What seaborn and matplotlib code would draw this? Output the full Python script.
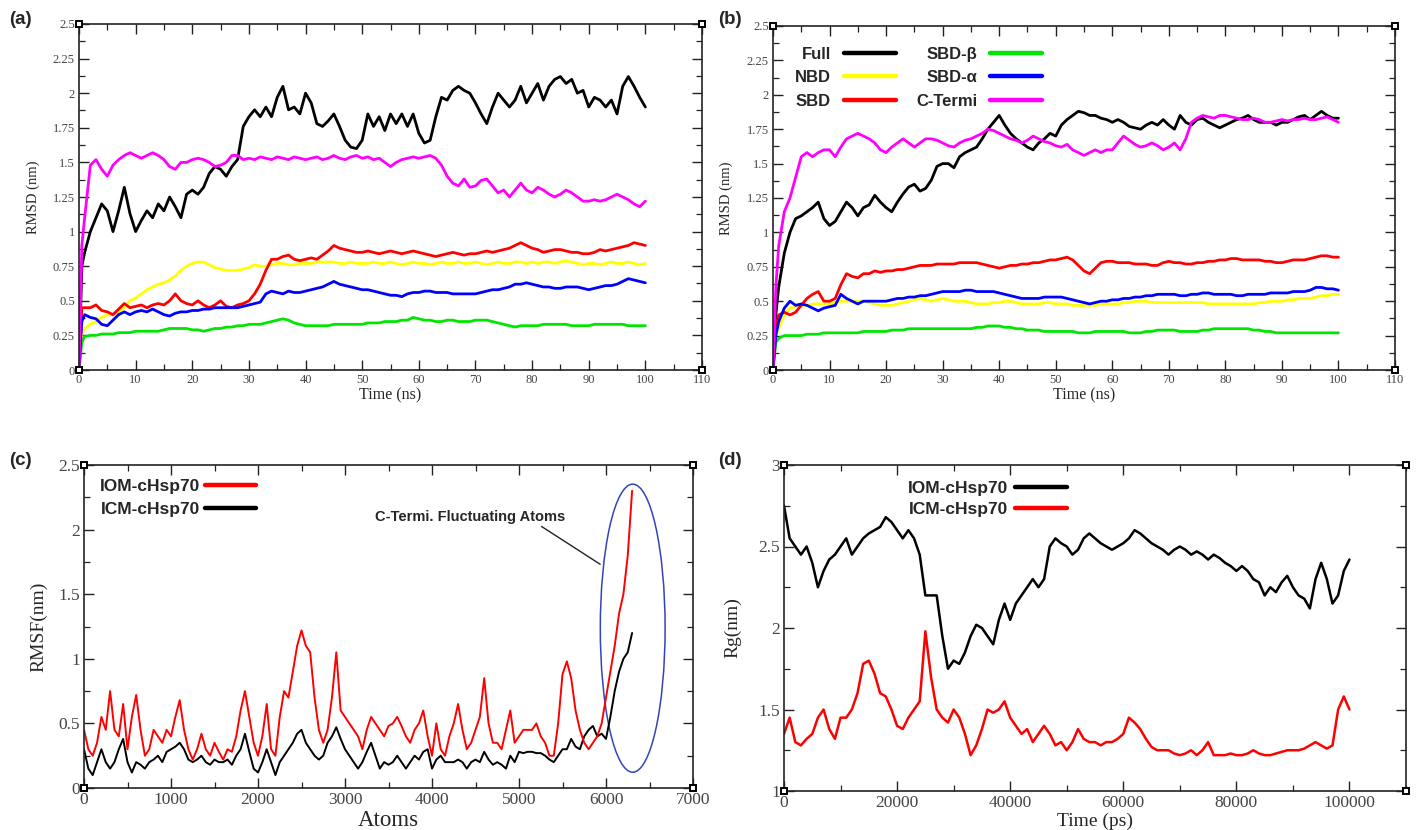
import numpy as np
import pandas as pd
import matplotlib
matplotlib.use("Agg")
import matplotlib.pyplot as plt
import seaborn as sns
from matplotlib.lines import Line2D
from matplotlib.patches import Ellipse
from matplotlib.ticker import MultipleLocator, FuncFormatter

# ---------------- data ----------------
TIME_NS = [0, 0.5] + list(range(1, 101))

FULL_A = [0.0, 0.75, 0.85,
          1.0, 1.1, 1.2, 1.15, 1.0, 1.15, 1.32, 1.13, 1.0,
          1.08, 1.15, 1.1, 1.2, 1.15, 1.25, 1.18, 1.1, 1.27, 1.3,
          1.27, 1.32, 1.42, 1.47, 1.45, 1.4, 1.47, 1.52, 1.76, 1.83,
          1.88, 1.83, 1.9, 1.83, 1.97, 2.05, 1.88, 1.9, 1.85, 2.0,
          1.93, 1.78, 1.76, 1.8, 1.85, 1.76, 1.66, 1.61, 1.6, 1.66,
          1.85, 1.76, 1.83, 1.73, 1.85, 1.78, 1.85, 1.76, 1.85, 1.71,
          1.64, 1.66, 1.83, 1.97, 1.95, 2.02, 2.05, 2.02, 2.0, 1.93,
          1.85, 1.78, 1.9, 2.0, 1.95, 1.9, 1.95, 2.05, 1.93, 2.0,
          2.07, 1.95, 2.05, 2.1, 2.12, 2.07, 2.1, 2.0, 2.02, 1.9,
          1.97, 1.95, 1.9, 1.95, 1.85, 2.05, 2.12, 2.05, 1.97, 1.9]
NBD_A = [0.15, 0.25, 0.3,
         0.33, 0.35, 0.38, 0.4, 0.4, 0.42, 0.45, 0.5, 0.52,
         0.55, 0.58, 0.6, 0.62, 0.63, 0.65, 0.68, 0.72, 0.75, 0.77,
         0.78, 0.78, 0.76, 0.74, 0.73, 0.72, 0.72, 0.72, 0.73, 0.74,
         0.76, 0.75, 0.75, 0.76, 0.77, 0.77, 0.76, 0.76, 0.77, 0.77,
         0.77, 0.78, 0.78, 0.78, 0.78, 0.77, 0.77, 0.78, 0.77, 0.77,
         0.77, 0.78, 0.77, 0.77, 0.78, 0.77, 0.76, 0.77, 0.78, 0.77,
         0.77, 0.76, 0.77, 0.78, 0.77, 0.77, 0.78, 0.77, 0.77, 0.78,
         0.77, 0.76, 0.77, 0.78, 0.77, 0.77, 0.78, 0.78, 0.77, 0.78,
         0.77, 0.78, 0.78, 0.77, 0.78, 0.79, 0.78, 0.77, 0.76, 0.77,
         0.77, 0.76, 0.77, 0.78, 0.77, 0.77, 0.78, 0.77, 0.76, 0.77]
SBD_A = [0.0, 0.45, 0.45,
         0.45, 0.47, 0.43, 0.42, 0.4, 0.44, 0.48, 0.45, 0.46,
         0.47, 0.45, 0.47, 0.48, 0.47, 0.5, 0.55, 0.5, 0.48, 0.47,
         0.5, 0.47, 0.45, 0.47, 0.5, 0.46, 0.45, 0.47, 0.48, 0.5,
         0.55, 0.62, 0.72, 0.8, 0.8, 0.82, 0.83, 0.8, 0.79, 0.8,
         0.81, 0.8, 0.83, 0.86, 0.9, 0.88, 0.87, 0.86, 0.85, 0.85,
         0.86, 0.85, 0.84, 0.85, 0.86, 0.85, 0.84, 0.85, 0.86, 0.85,
         0.84, 0.83, 0.82, 0.83, 0.84, 0.85, 0.84, 0.83, 0.84, 0.84,
         0.85, 0.86, 0.85, 0.86, 0.87, 0.88, 0.9, 0.92, 0.9, 0.88,
         0.87, 0.85, 0.86, 0.87, 0.87, 0.86, 0.85, 0.85, 0.84, 0.84,
         0.85, 0.87, 0.86, 0.87, 0.88, 0.89, 0.9, 0.92, 0.91, 0.9]
SBDB_A = [0.0, 0.2, 0.24,
          0.25, 0.25, 0.26, 0.26, 0.26, 0.27, 0.27, 0.27, 0.28,
          0.28, 0.28, 0.28, 0.28, 0.29, 0.3, 0.3, 0.3, 0.3, 0.29,
          0.29, 0.28, 0.29, 0.3, 0.3, 0.31, 0.31, 0.32, 0.32, 0.33,
          0.33, 0.33, 0.34, 0.35, 0.36, 0.37, 0.36, 0.34, 0.33, 0.32,
          0.32, 0.32, 0.32, 0.32, 0.33, 0.33, 0.33, 0.33, 0.33, 0.33,
          0.34, 0.34, 0.34, 0.35, 0.35, 0.35, 0.36, 0.36, 0.38, 0.37,
          0.36, 0.36, 0.35, 0.35, 0.36, 0.36, 0.35, 0.35, 0.35, 0.36,
          0.36, 0.36, 0.35, 0.34, 0.33, 0.32, 0.31, 0.32, 0.32, 0.32,
          0.32, 0.33, 0.33, 0.33, 0.33, 0.33, 0.32, 0.32, 0.32, 0.32,
          0.33, 0.33, 0.33, 0.33, 0.33, 0.33, 0.32, 0.32, 0.32, 0.32]
SBDA_A = [0.0, 0.35, 0.4,
          0.38, 0.37, 0.33, 0.32, 0.36, 0.4, 0.42, 0.4, 0.42,
          0.43, 0.42, 0.44, 0.42, 0.4, 0.39, 0.41, 0.42, 0.42, 0.43,
          0.43, 0.44, 0.44, 0.45, 0.45, 0.45, 0.45, 0.45, 0.46, 0.47,
          0.48, 0.49, 0.55, 0.57, 0.56, 0.55, 0.57, 0.56, 0.56, 0.57,
          0.58, 0.59, 0.6, 0.62, 0.64, 0.62, 0.61, 0.6, 0.59, 0.58,
          0.58, 0.57, 0.56, 0.55, 0.54, 0.54, 0.53, 0.55, 0.56, 0.56,
          0.57, 0.57, 0.56, 0.56, 0.56, 0.55, 0.55, 0.55, 0.55, 0.55,
          0.56, 0.57, 0.58, 0.58, 0.59, 0.6, 0.62, 0.62, 0.63, 0.62,
          0.61, 0.6, 0.6, 0.59, 0.59, 0.6, 0.6, 0.6, 0.59, 0.58,
          0.59, 0.6, 0.61, 0.61, 0.62, 0.64, 0.66, 0.65, 0.64, 0.63]
CTERM_A = [0.0, 0.9, 1.1,
           1.48, 1.52, 1.45, 1.4, 1.48, 1.52, 1.55, 1.57, 1.55,
           1.53, 1.55, 1.57, 1.55, 1.52, 1.47, 1.45, 1.5, 1.5, 1.52,
           1.53, 1.52, 1.5, 1.47, 1.48, 1.5, 1.55, 1.55, 1.52, 1.53,
           1.52, 1.54, 1.53, 1.52, 1.54, 1.53, 1.52, 1.54, 1.53, 1.52,
           1.53, 1.54, 1.52, 1.53, 1.55, 1.53, 1.52, 1.54, 1.55, 1.53,
           1.54, 1.52, 1.53, 1.5, 1.47, 1.5, 1.52, 1.53, 1.54, 1.53,
           1.54, 1.55, 1.53, 1.48, 1.4, 1.35, 1.33, 1.38, 1.32, 1.33,
           1.37, 1.38, 1.33, 1.28, 1.3, 1.25, 1.3, 1.35, 1.3, 1.28,
           1.32, 1.3, 1.27, 1.25, 1.27, 1.3, 1.28, 1.25, 1.22, 1.22,
           1.23, 1.22, 1.23, 1.25, 1.27, 1.25, 1.23, 1.2, 1.18, 1.22]

FULL_B = [0.0, 0.4, 0.6,
          0.85, 1.0, 1.1, 1.12, 1.15, 1.18, 1.22, 1.1, 1.05,
          1.08, 1.15, 1.22, 1.18, 1.12, 1.18, 1.2, 1.27, 1.22, 1.18,
          1.15, 1.22, 1.28, 1.33, 1.35, 1.3, 1.32, 1.38, 1.48, 1.5,
          1.5, 1.47, 1.55, 1.58, 1.6, 1.62, 1.68, 1.75, 1.8, 1.85,
          1.78, 1.72, 1.68, 1.65, 1.62, 1.6, 1.65, 1.68, 1.72, 1.7,
          1.78, 1.82, 1.85, 1.88, 1.87, 1.85, 1.85, 1.83, 1.82, 1.8,
          1.82, 1.8, 1.77, 1.76, 1.75, 1.78, 1.8, 1.78, 1.82, 1.78,
          1.75, 1.85, 1.8, 1.78, 1.82, 1.83, 1.8, 1.78, 1.76, 1.78,
          1.8, 1.82, 1.83, 1.85, 1.82, 1.8, 1.8, 1.8, 1.78, 1.8,
          1.8, 1.82, 1.84, 1.85, 1.82, 1.85, 1.88, 1.85, 1.83, 1.83]
NBD_B = [0.15, 0.25, 0.3,
         0.4, 0.45, 0.46, 0.47, 0.47, 0.48, 0.48, 0.48, 0.48,
         0.49, 0.5, 0.5, 0.5, 0.5, 0.5, 0.49, 0.48, 0.47, 0.47,
         0.47, 0.48, 0.49, 0.5, 0.51, 0.52, 0.51, 0.5, 0.51, 0.52,
         0.51, 0.5, 0.5, 0.5, 0.49, 0.48, 0.48, 0.48, 0.49, 0.49,
         0.5, 0.5, 0.49, 0.48, 0.48, 0.48, 0.48, 0.49, 0.49, 0.48,
         0.48, 0.48, 0.47, 0.47, 0.47, 0.47, 0.47, 0.48, 0.48, 0.48,
         0.48, 0.49, 0.49, 0.5, 0.5, 0.5, 0.49, 0.49, 0.49, 0.49,
         0.49, 0.49, 0.49, 0.49, 0.49, 0.49, 0.48, 0.48, 0.48, 0.48,
         0.48, 0.48, 0.48, 0.48, 0.48, 0.49, 0.49, 0.5, 0.5, 0.5,
         0.51, 0.51, 0.52, 0.52, 0.52, 0.53, 0.54, 0.54, 0.55, 0.55]
SBD_B = [0.0, 0.3, 0.4,
         0.42, 0.4, 0.42, 0.47, 0.52, 0.55, 0.57, 0.5, 0.5,
         0.52, 0.62, 0.7, 0.68, 0.67, 0.7, 0.7, 0.72, 0.71, 0.72,
         0.72, 0.73, 0.73, 0.74, 0.75, 0.76, 0.76, 0.76, 0.77, 0.77,
         0.77, 0.77, 0.78, 0.78, 0.78, 0.78, 0.77, 0.76, 0.75, 0.74,
         0.75, 0.76, 0.76, 0.77, 0.77, 0.78, 0.78, 0.79, 0.8, 0.8,
         0.81, 0.82, 0.8, 0.76, 0.72, 0.7, 0.74, 0.78, 0.79, 0.79,
         0.78, 0.78, 0.78, 0.77, 0.77, 0.77, 0.76, 0.76, 0.78, 0.79,
         0.78, 0.78, 0.77, 0.77, 0.78, 0.78, 0.79, 0.79, 0.8, 0.8,
         0.81, 0.81, 0.8, 0.8, 0.8, 0.8, 0.79, 0.79, 0.78, 0.78,
         0.79, 0.8, 0.8, 0.8, 0.81, 0.82, 0.83, 0.83, 0.82, 0.82]
SBDB_B = [0.0, 0.2, 0.23,
          0.25, 0.25, 0.25, 0.25, 0.26, 0.26, 0.26, 0.27, 0.27,
          0.27, 0.27, 0.27, 0.27, 0.27, 0.28, 0.28, 0.28, 0.28, 0.28,
          0.29, 0.29, 0.29, 0.3, 0.3, 0.3, 0.3, 0.3, 0.3, 0.3,
          0.3, 0.3, 0.3, 0.3, 0.3, 0.31, 0.31, 0.32, 0.32, 0.32,
          0.31, 0.31, 0.3, 0.3, 0.29, 0.29, 0.29, 0.28, 0.28, 0.28,
          0.28, 0.28, 0.28, 0.27, 0.27, 0.27, 0.28, 0.28, 0.28, 0.28,
          0.28, 0.28, 0.27, 0.27, 0.27, 0.28, 0.28, 0.29, 0.29, 0.29,
          0.29, 0.28, 0.28, 0.28, 0.28, 0.29, 0.29, 0.3, 0.3, 0.3,
          0.3, 0.3, 0.3, 0.3, 0.29, 0.29, 0.28, 0.28, 0.27, 0.27,
          0.27, 0.27, 0.27, 0.27, 0.27, 0.27, 0.27, 0.27, 0.27, 0.27]
SBDA_B = [0.0, 0.25, 0.35,
          0.45, 0.5, 0.47, 0.48, 0.47, 0.45, 0.43, 0.45, 0.46,
          0.47, 0.55, 0.52, 0.5, 0.48, 0.5, 0.5, 0.5, 0.5, 0.5,
          0.51, 0.52, 0.52, 0.53, 0.53, 0.54, 0.54, 0.55, 0.56, 0.57,
          0.57, 0.57, 0.57, 0.58, 0.58, 0.57, 0.57, 0.57, 0.57, 0.56,
          0.55, 0.54, 0.53, 0.52, 0.52, 0.52, 0.52, 0.53, 0.53, 0.53,
          0.53, 0.52, 0.51, 0.5, 0.49, 0.48, 0.49, 0.5, 0.5, 0.51,
          0.51, 0.52, 0.52, 0.53, 0.53, 0.54, 0.54, 0.55, 0.55, 0.55,
          0.55, 0.54, 0.54, 0.55, 0.55, 0.56, 0.56, 0.55, 0.55, 0.55,
          0.55, 0.54, 0.54, 0.55, 0.55, 0.55, 0.55, 0.56, 0.56, 0.56,
          0.56, 0.57, 0.57, 0.57, 0.58, 0.6, 0.6, 0.59, 0.59, 0.58]
CTERM_B = [0.0, 0.6, 0.9,
           1.15, 1.25, 1.4, 1.55, 1.58, 1.55, 1.58, 1.6, 1.6,
           1.55, 1.62, 1.68, 1.7, 1.72, 1.7, 1.68, 1.65, 1.6, 1.58,
           1.62, 1.65, 1.68, 1.65, 1.62, 1.65, 1.68, 1.68, 1.67, 1.65,
           1.63, 1.62, 1.65, 1.67, 1.68, 1.7, 1.72, 1.75, 1.74, 1.72,
           1.7, 1.68, 1.67, 1.65, 1.67, 1.7, 1.68, 1.66, 1.65, 1.63,
           1.62, 1.64, 1.6, 1.58, 1.56, 1.58, 1.6, 1.58, 1.6, 1.6,
           1.65, 1.7, 1.67, 1.64, 1.62, 1.63, 1.65, 1.63, 1.6, 1.62,
           1.65, 1.6, 1.68, 1.8, 1.83, 1.85, 1.84, 1.83, 1.85, 1.85,
           1.84, 1.83, 1.82, 1.82, 1.83, 1.82, 1.8, 1.8, 1.81, 1.82,
           1.81, 1.82, 1.82, 1.83, 1.82, 1.82, 1.83, 1.84, 1.82, 1.8]

ATOMS = list(range(0, 6301, 50))
RMSF_IOM = [0.45, 0.3, 0.25, 0.35, 0.55, 0.45, 0.75, 0.45, 0.4, 0.65,
            0.3, 0.55, 0.72, 0.45, 0.25, 0.3, 0.45, 0.4, 0.35, 0.45,
            0.4, 0.55, 0.68, 0.45, 0.3, 0.22, 0.3, 0.42, 0.3, 0.25,
            0.35, 0.28, 0.22, 0.3, 0.28, 0.4, 0.6, 0.75, 0.55, 0.35,
            0.25, 0.4, 0.65, 0.3, 0.25, 0.55, 0.75, 0.7, 0.9, 1.1,
            1.22, 1.1, 1.05, 0.7, 0.45, 0.35, 0.45, 0.7, 1.05, 0.6,
            0.55, 0.5, 0.45, 0.4, 0.3, 0.45, 0.55, 0.5, 0.45, 0.4,
            0.48, 0.5, 0.55, 0.48, 0.4, 0.35, 0.45, 0.5, 0.6, 0.4,
            0.25, 0.5, 0.3, 0.25, 0.4, 0.5, 0.65, 0.45, 0.3, 0.35,
            0.45, 0.55, 0.85, 0.5, 0.35, 0.35, 0.3, 0.45, 0.6, 0.35,
            0.4, 0.45, 0.45, 0.45, 0.5, 0.4, 0.35, 0.25, 0.25, 0.5,
            0.88, 0.98, 0.85, 0.6, 0.45, 0.35, 0.3, 0.35, 0.4, 0.5,
            0.7, 0.9, 1.1, 1.35, 1.5, 1.8, 2.3]
RMSF_ICM = [0.3, 0.15, 0.1, 0.2, 0.3, 0.2, 0.15, 0.2, 0.3, 0.38,
            0.2, 0.12, 0.2, 0.18, 0.15, 0.2, 0.22, 0.25, 0.2, 0.28,
            0.3, 0.32, 0.35, 0.3, 0.22, 0.2, 0.22, 0.25, 0.2, 0.18,
            0.22, 0.2, 0.2, 0.22, 0.18, 0.25, 0.3, 0.42, 0.28, 0.15,
            0.12, 0.2, 0.3, 0.2, 0.1, 0.2, 0.25, 0.3, 0.35, 0.42,
            0.45, 0.35, 0.3, 0.25, 0.22, 0.25, 0.35, 0.4, 0.47, 0.38,
            0.3, 0.25, 0.2, 0.15, 0.2, 0.28, 0.35, 0.25, 0.15, 0.2,
            0.18, 0.2, 0.25, 0.2, 0.15, 0.2, 0.25, 0.22, 0.28, 0.3,
            0.15, 0.22, 0.25, 0.2, 0.2, 0.2, 0.22, 0.2, 0.15, 0.2,
            0.22, 0.2, 0.28, 0.22, 0.18, 0.2, 0.18, 0.15, 0.25, 0.2,
            0.28, 0.27, 0.28, 0.28, 0.27, 0.27, 0.25, 0.22, 0.2, 0.25,
            0.3, 0.3, 0.38, 0.32, 0.3, 0.4, 0.45, 0.48, 0.4, 0.42,
            0.38, 0.55, 0.75, 0.9, 1.0, 1.05, 1.2]

TIME_PS = list(range(0, 100001, 1000))
RG_IOM = [2.75, 2.55, 2.5, 2.45, 2.5, 2.4, 2.25, 2.35, 2.42, 2.45,
          2.5, 2.55, 2.45, 2.5, 2.55, 2.58, 2.6, 2.62, 2.68, 2.65,
          2.6, 2.55, 2.6, 2.55, 2.45, 2.2, 2.2, 2.2, 1.95, 1.75,
          1.8, 1.78, 1.85, 1.95, 2.02, 2.0, 1.95, 1.9, 2.05, 2.15,
          2.05, 2.15, 2.2, 2.25, 2.3, 2.25, 2.3, 2.5, 2.55, 2.52,
          2.5, 2.45, 2.48, 2.55, 2.58, 2.55, 2.52, 2.5, 2.48, 2.5,
          2.52, 2.55, 2.6, 2.58, 2.55, 2.52, 2.5, 2.48, 2.45, 2.48,
          2.5, 2.48, 2.45, 2.47, 2.45, 2.42, 2.45, 2.43, 2.4, 2.38,
          2.35, 2.38, 2.35, 2.3, 2.28, 2.2, 2.25, 2.22, 2.28, 2.32,
          2.25, 2.2, 2.18, 2.12, 2.3, 2.4, 2.3, 2.15, 2.2, 2.35,
          2.42]
RG_ICM = [1.35, 1.45, 1.3, 1.28, 1.32, 1.35, 1.45, 1.5, 1.38, 1.32,
          1.45, 1.45, 1.5, 1.6, 1.78, 1.8, 1.72, 1.6, 1.58, 1.5,
          1.4, 1.38, 1.45, 1.5, 1.55, 1.98, 1.7, 1.5, 1.45, 1.42,
          1.5, 1.45, 1.35, 1.22, 1.28, 1.38, 1.5, 1.48, 1.5, 1.55,
          1.45, 1.4, 1.35, 1.38, 1.3, 1.35, 1.4, 1.35, 1.28, 1.3,
          1.25, 1.3, 1.38, 1.32, 1.3, 1.3, 1.28, 1.3, 1.3, 1.32,
          1.35, 1.45, 1.42, 1.38, 1.32, 1.27, 1.25, 1.25, 1.25, 1.23,
          1.22, 1.23, 1.25, 1.22, 1.25, 1.3, 1.22, 1.22, 1.22, 1.23,
          1.22, 1.22, 1.23, 1.25, 1.23, 1.22, 1.22, 1.23, 1.24, 1.25,
          1.25, 1.25, 1.26, 1.28, 1.3, 1.28, 1.26, 1.28, 1.5, 1.58,
          1.5]

RMSD_LABELS = ["Full", "NBD", "SBD", "SBD-β", "SBD-α", "C-Termi"]
RMSD_COLORS = ["#000000", "#ffff00", "#ff0000", "#00e600", "#0000ff", "#ff00ff"]
PROT_LABELS = ["IOM-cHsp70", "ICM-cHsp70"]

# ---------------- style ----------------
sns.set_theme(style="white")
plt.rcParams["font.family"] = ["Liberation Serif", "DejaVu Serif"]
plt.rcParams["axes.linewidth"] = 1.2
SANS = ["Liberation Sans", "DejaVu Sans"]
TICKCOL = "#444444"

fig = plt.figure(figsize=(14.17, 8.30), dpi=100)
W, H = 1417, 830


def add_axes(l, t, r, b):
    return fig.add_axes([l / W, 1 - b / H, (r - l) / W, (b - t) / H])


def fmt(v, p):
    return f"{v:g}"


def style(ax, xlim, ylim, xmaj, xmin, ymaj, ymin, fs):
    ax.set_xlim(*xlim)
    ax.set_ylim(*ylim)
    ax.xaxis.set_major_locator(MultipleLocator(xmaj))
    ax.xaxis.set_minor_locator(MultipleLocator(xmin))
    ax.yaxis.set_major_locator(MultipleLocator(ymaj))
    ax.yaxis.set_minor_locator(MultipleLocator(ymin))
    ax.xaxis.set_major_formatter(FuncFormatter(fmt))
    ax.yaxis.set_major_formatter(FuncFormatter(fmt))
    ax.tick_params(which="both", direction="in", top=True, right=True,
                   bottom=True, left=True, color="#222222")
    ax.tick_params(which="major", length=7, width=1.0, labelsize=fs, pad=3,
                   labelcolor=TICKCOL)
    ax.tick_params(which="minor", length=4, width=0.9)
    for s in ax.spines.values():
        s.set_color("#222222")
        s.set_visible(True)
    ax.plot([0, 1, 0, 1], [0, 0, 1, 1], transform=ax.transAxes, ls="none",
            marker="s", ms=4.5, mfc="white", mec="black", mew=1.4,
            clip_on=False, zorder=10)


def long_df(x, series, xname):
    return pd.concat([pd.DataFrame({xname: x, "value": v, "series": k})
                      for k, v in series.items()], ignore_index=True)


# ---- (a)
axa = add_axes(79, 24, 702, 370)
dfa = long_df(TIME_NS, dict(zip(RMSD_LABELS, [FULL_A, NBD_A, SBD_A, SBDB_A, SBDA_A, CTERM_A])), "t")
sns.lineplot(data=dfa, x="t", y="value", hue="series", hue_order=RMSD_LABELS,
             palette=RMSD_COLORS, estimator=None, sort=False, lw=2.0,
             legend=False, ax=axa)
style(axa, (0, 110), (0, 2.5), 10, 5, 0.25, 0.125, 9)
axa.set_xlabel("Time (ns)", fontsize=11.5, labelpad=1)
axa.set_ylabel("RMSD (nm)", fontsize=10.5, labelpad=9)

# ---- (b)
axb = add_axes(773, 26, 1395, 370)
dfb = long_df(TIME_NS, dict(zip(RMSD_LABELS, [FULL_B, NBD_B, SBD_B, SBDB_B, SBDA_B, CTERM_B])), "t")
sns.lineplot(data=dfb, x="t", y="value", hue="series", hue_order=RMSD_LABELS,
             palette=RMSD_COLORS, estimator=None, sort=False, lw=2.0,
             legend=False, ax=axb)
style(axb, (0, 110), (0, 2.5), 10, 5, 0.25, 0.125, 9)
axb.set_xlabel("Time (ns)", fontsize=11.5, labelpad=1)
axb.set_ylabel("RMSD (nm)", fontsize=10.5, labelpad=10)
hb = [Line2D([], [], color=c, lw=3.2) for c in RMSD_COLORS]
axb.legend(hb, RMSD_LABELS, ncol=2, markerfirst=False, frameon=False,
           loc="upper left", bbox_to_anchor=((795 - 773) / 622, 1 - (47 - 26) / 344),
           borderpad=0, borderaxespad=0, handlelength=3.1, handletextpad=0.8,
           columnspacing=1.2, labelspacing=0.5,
           prop={"family": SANS, "weight": "bold", "size": 12})

# ---- (c)
axc = add_axes(84, 465, 693, 788)
dfc = long_df(ATOMS, dict(zip(PROT_LABELS, [RMSF_IOM, RMSF_ICM])), "atom")
sns.lineplot(data=dfc, x="atom", y="value", hue="series", hue_order=PROT_LABELS[::-1],
             palette=["#000000", "#ff0000"], estimator=None, sort=False, lw=1.4,
             legend=False, ax=axc)
style(axc, (0, 7000), (0, 2.5), 1000, 500, 0.5, 0.25, 12.5)
axc.set_xlabel("Atoms", fontsize=16.5, labelpad=1)
axc.set_ylabel("RMSF(nm)", fontsize=14, labelpad=8)
hc = [Line2D([], [], color=c, lw=3.2) for c in ["#ff0000", "#000000"]]
axc.legend(hc, PROT_LABELS, markerfirst=False, frameon=False, loc="upper left",
           bbox_to_anchor=((100 - 84) / 609, 1 - (479 - 465) / 323),
           borderpad=0, borderaxespad=0, handlelength=2.9, handletextpad=0.3,
           labelspacing=0.45, prop={"family": SANS, "weight": "bold", "size": 12.5})
axc.add_patch(Ellipse((6307, 1.237), 745, 2.23, fill=False,
                      edgecolor="#3344bb", lw=1.1))
axc.annotate("", xy=(5960, 1.72), xytext=(5232, 2.036),
             arrowprops=dict(arrowstyle="-", color="#222222", lw=1.0))
axc.text(4435, 2.095, "C-Termi. Fluctuating Atoms", ha="center", va="center",
         fontsize=10.5, fontweight="bold", family=SANS)

# ---- (d)
axd = add_axes(784, 465, 1406, 791)
dfd = long_df(TIME_PS, dict(zip(PROT_LABELS, [RG_IOM, RG_ICM])), "t")
sns.lineplot(data=dfd, x="t", y="value", hue="series", hue_order=PROT_LABELS,
             palette=["#000000", "#ff0000"], estimator=None, sort=False, lw=1.8,
             legend=False, ax=axd)
style(axd, (0, 110000), (1, 3), 20000, 10000, 0.5, 0.25, 12.5)
axd.set_xlabel("Time (ps)", fontsize=14, labelpad=1)
axd.set_ylabel("Rg(nm)", fontsize=14, labelpad=12)
hd = [Line2D([], [], color=c, lw=3.2) for c in ["#000000", "#ff0000"]]
axd.legend(hd, PROT_LABELS, markerfirst=False, frameon=False, loc="upper left",
           bbox_to_anchor=((908 - 784) / 622, 1 - (481 - 465) / 326),
           borderpad=0, borderaxespad=0, handlelength=3.0, handletextpad=0.4,
           labelspacing=0.35, prop={"family": SANS, "weight": "bold", "size": 12.5})

# panel labels
for lbl, x, y in [("(a)", 9, 20), ("(b)", 718, 20), ("(c)", 9, 460), ("(d)", 718, 460)]:
    fig.text(x / W, 1 - y / H, lbl, ha="left", va="center", fontsize=13.5,
             fontweight="bold", family=SANS)

fig.savefig("out.png", dpi=100, facecolor="white")
